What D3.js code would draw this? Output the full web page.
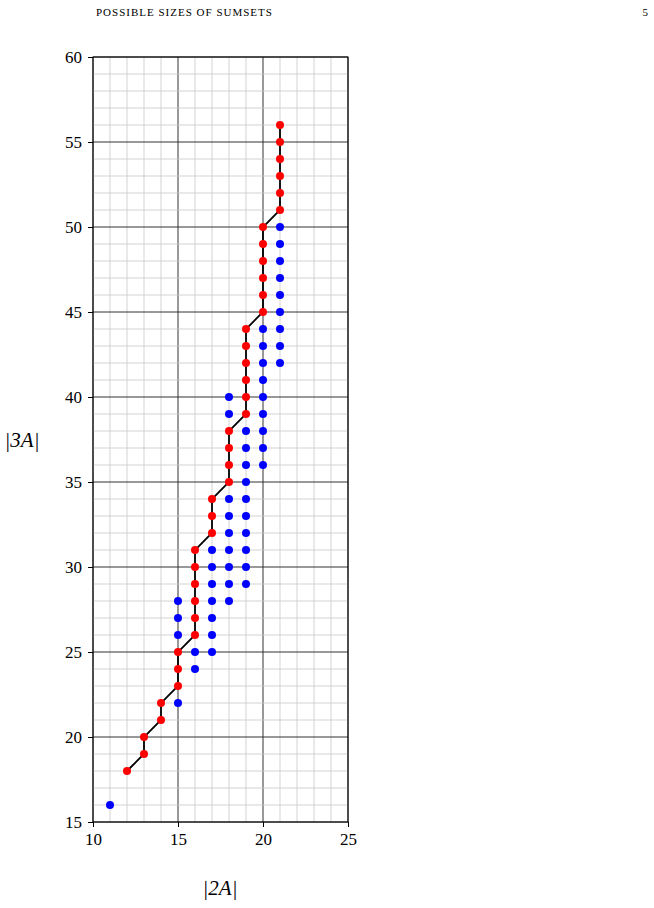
<!DOCTYPE html>
<html><head><meta charset="utf-8">
<script src="https://cdn.jsdelivr.net/npm/d3@7"></script>
<style>body{margin:0;background:#fff}</style></head>
<body><svg id="c" width="654" height="908"></svg>
<script>
const xTicks=[10,15,20,25];
const yTicks=[15,20,25,30,35,40,45,50,55,60];
const redPts=[[12,18],[13,19],[13,20],[14,21],[14,22],[15,23],[15,24],[15,25],[16,26],[16,27],[16,28],[16,29],[16,30],[16,31],[17,32],[17,33],[17,34],[18,35],[18,36],[18,37],[18,38],[19,39],[19,40],[19,41],[19,42],[19,43],[19,44],[20,45],[20,46],[20,47],[20,48],[20,49],[20,50],[21,51],[21,52],[21,53],[21,54],[21,55],[21,56]];
const bluePts=[[11,16],[15,22],[16,24],[16,25],[17,25],[15,26],[17,26],[15,27],[17,27],[15,28],[17,28],[18,28],
[17,29],[18,29],[19,29],[17,30],[18,30],[19,30],[17,31],[18,31],[19,31],[18,32],[19,32],[18,33],[19,33],[18,34],[19,34],
[19,35],[19,36],[20,36],[19,37],[20,37],[19,38],[20,38],[18,39],[20,39],[18,40],[20,40],[20,41],[20,42],[21,42],[20,43],[21,43],[20,44],[21,44],
[21,45],[21,46],[21,47],[21,48],[21,49],[21,50]];
const svg=d3.select("#c");
const x=d3.scaleLinear().domain([10,25]).range([93,348]);
const y=d3.scaleLinear().domain([15,60]).range([822,57]);
const g=svg.append("g");
d3.range(10,26).forEach(v=>g.append("line").attr("x1",x(v)).attr("x2",x(v)).attr("y1",y(15)).attr("y2",y(60)).attr("stroke",v%5?"#c8c8c8":"#333").attr("stroke-width",v%5?0.8:1));
d3.range(15,61).forEach(v=>g.append("line").attr("y1",y(v)).attr("y2",y(v)).attr("x1",x(10)).attr("x2",x(25)).attr("stroke",v%5?"#c8c8c8":"#333").attr("stroke-width",v%5?0.8:1));
g.append("rect").attr("x",x(10)).attr("y",y(60)).attr("width",x(25)-x(10)).attr("height",y(15)-y(60)).attr("fill","none").attr("stroke","#000");
const font="'Liberation Serif','DejaVu Serif',serif";
svg.append("g").attr("transform",`translate(0,${y(15)})`).call(d3.axisBottom(x).tickValues(xTicks).tickSize(5).tickPadding(6))
 .call(a=>{a.select(".domain").remove();a.selectAll("text").attr("font-family",font).attr("font-size",17).attr("fill","#000");});
svg.append("g").attr("transform",`translate(${x(10)},0)`).call(d3.axisLeft(y).tickValues(yTicks).tickSize(5).tickPadding(6))
 .call(a=>{a.select(".domain").remove();a.selectAll("text").attr("font-family",font).attr("font-size",17).attr("fill","#000");});
svg.append("path").datum(redPts).attr("d",d3.line().x(d=>x(d[0])).y(d=>y(d[1]))).attr("fill","none").attr("stroke","#000").attr("stroke-width",1.8);
svg.selectAll(".b").data(bluePts).join("circle").attr("cx",d=>x(d[0])).attr("cy",d=>y(d[1])).attr("r",4).attr("fill","#0000ff");
svg.selectAll(".r").data(redPts).join("circle").attr("cx",d=>x(d[0])).attr("cy",d=>y(d[1])).attr("r",4).attr("fill","#ff0000");
svg.append("text").attr("x",22).attr("y",447).attr("text-anchor","middle").attr("font-family",font).attr("font-size",21).text("|3A|").attr("font-style","italic");
svg.append("text").attr("x",220).attr("y",895).attr("text-anchor","middle").attr("font-family",font).attr("font-size",21).text("|2A|").attr("font-style","italic");
svg.append("text").attr("x",96).attr("y",16).attr("font-family",font).attr("font-size",11).attr("letter-spacing",1).text("POSSIBLE SIZES OF SUMSETS");
svg.append("text").attr("x",648).attr("y",16).attr("text-anchor","end").attr("font-family",font).attr("font-size",11).text("5");
</script></body></html>
